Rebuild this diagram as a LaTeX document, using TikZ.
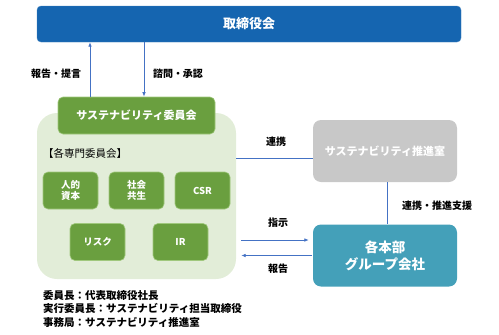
\documentclass[tikz,border=0pt]{standalone}
\usepackage{fontspec}
\setmainfont{Noto Sans CJK JP}
\usepackage{tikz}
\usetikzlibrary{arrows.meta,positioning,calc}
\definecolor{boardblue}{RGB}{21,101,176}
\definecolor{linkblue}{RGB}{68,114,196}
\definecolor{leafgreen}{RGB}{106,159,63}
\definecolor{leafedge}{RGB}{160,200,125}
\definecolor{palegreen}{RGB}{226,237,216}
\definecolor{officegray}{RGB}{200,200,200}
\definecolor{groupteal}{RGB}{68,160,185}
\tikzset{
  gvboard/.style={fill=boardblue, draw=boardblue!80!white, rounded corners=4pt, text=white, font=\bfseries\fontsize{13}{15}\selectfont, inner sep=0pt},
  gvhead/.style={fill=leafgreen, draw=leafedge, line width=0.6pt, rounded corners=5pt, text=white, font=\bfseries\fontsize{11}{13}\selectfont, inner sep=0pt},
  gvsub/.style={fill=leafgreen, draw=leafedge, line width=0.6pt, rounded corners=5pt, text=white, align=center, minimum width=55pt, minimum height=37pt, font=\bfseries\fontsize{9.5}{11.5}\selectfont, inner sep=0pt},
  gvpanel/.style={fill=palegreen, draw=none, rounded corners=20pt, inner sep=0pt},
  gvroom/.style={rounded corners=8pt, text=white, align=center, minimum width=144pt, minimum height=62pt, inner sep=0pt},
  gvlabel/.style={font=\bfseries\fontsize{10}{12}\selectfont, inner sep=0pt},
  gvline/.style={draw=linkblue, line width=0.8pt},
  gvarrow/.style={gvline, -{Latex[length=4.5pt,width=3.6pt]}}
}
\begin{document}
\begin{tikzpicture}[x=1pt, y=-1pt]
  \useasboundingbox (0,0) rectangle (499,335);

  \node[gvboard, minimum width=424pt, minimum height=36pt] (board) at (249,24) {取締役会};

  % committee and its sub-committees
  \node[gvpanel, minimum width=199pt, minimum height=166pt] (panel) at (136.5,196) {};
  \node[gvhead, minimum width=157pt, minimum height=37pt] (comm) at (136.5,115.5) {サステナビリティ委員会};
  \node[anchor=west, inner sep=0pt, font=\fontsize{10.5}{12}\selectfont] (subs) at (43,153) {【各専門委員会】};

  \node[gvsub] (human) at (70.5,190.5) {人的\\資本};
  \node[gvsub] (social) at (136.5,190.5) {社会\\共生};
  \node[gvsub] (csr) at (202.5,190.5) {CSR};
  \node[gvsub] (risk) at (97.5,242) {リスク};
  \node[gvsub] (ir) at (180.5,242) {IR};

  \node[anchor=west, align=left, inner sep=0pt, font=\bfseries\fontsize{10.5}{13.5}\selectfont] (roles) at (43,309)
    {委員長：代表取締役社長\\実行委員長：サステナビリティ担当取締役\\事務局：サステナビリティ推進室};

  % right side
  \node[gvroom, fill=officegray, font=\bfseries\fontsize{11}{13}\selectfont] (office) at (385,151) {サステナビリティ推進室};
  \node[gvroom, fill=groupteal, font=\bfseries\fontsize{13.5}{17}\selectfont] (group) at (385,255.5) {各本部\\グループ会社};

  \draw[gvarrow] ([xshift=-46.5pt]comm.north) -- ([xshift=-46.5pt]comm.north |- board.south);
  \draw[gvarrow] ([xshift=7.5pt]comm.north |- board.south) -- ([xshift=7.5pt]comm.north);
  \draw[gvline] ([yshift=-7pt]office.west) -- ([yshift=-7pt]office.west -| panel.east);
  \draw[gvline] ([xshift=2pt]office.south) -- ([xshift=2pt]group.north);
  \draw[gvarrow] ([xshift=5pt,yshift=15.5pt]group.west -| panel.east) -- ([xshift=-4pt,yshift=15.5pt]group.west);
  \draw[gvarrow] ([xshift=-1pt]group.west) -- ([xshift=5pt]group.west -| panel.east);

  \node[gvlabel] (report1) at (56,74) {報告・提言};
  \node[gvlabel] (consult) at (178,74) {諮問・承認};
  \node[gvlabel] (link1) at (276,142) {連携};
  \node[gvlabel] (link2) at (437,206) {連携・推進支援};
  \node[gvlabel] (order) at (278,223) {指示};
  \node[gvlabel] (report2) at (278,269) {報告};
\end{tikzpicture}
\end{document}
